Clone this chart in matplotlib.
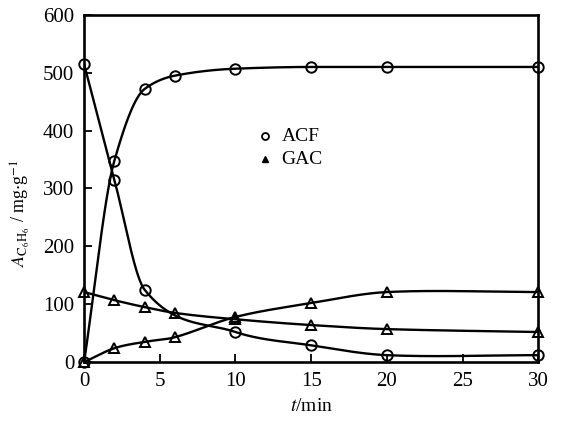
import numpy as np
import matplotlib
matplotlib.use("Agg")
import matplotlib.pyplot as plt

plt.rcParams['font.family'] = ['Liberation Serif', 'DejaVu Serif']
plt.rcParams['mathtext.fontset'] = 'stix'

# data
t = [0, 2, 4, 6, 10, 15, 20, 30]
acf_up = [0, 348, 472, 495, 507, 510, 510, 510]
t_acf_dn = [0, 2, 4, 10, 15, 20, 30]
acf_dn = [515, 315, 125, 52, 29, 12, 12]
gac_up = [0, 24, 35, 43, 78, 102, 121, 121]
gac_dn = [121, 107, 95, 85, 74, 64, 57, 52]


def hermite(x, y, m, xn):
    h = np.diff(x)
    idx = np.clip(np.searchsorted(x, xn) - 1, 0, len(h) - 1)
    s = (xn - x[idx]) / h[idx]
    h00 = 2 * s**3 - 3 * s**2 + 1
    h10 = s**3 - 2 * s**2 + s
    h01 = -2 * s**3 + 3 * s**2
    h11 = s**3 - s**2
    return h00 * y[idx] + h10 * h[idx] * m[idx] + h01 * y[idx + 1] + h11 * h[idx] * m[idx + 1]


def pchip(x, y, xn):
    # monotone cubic, only for drawing a smooth line through the points
    x = np.asarray(x, float)
    y = np.asarray(y, float)
    h = np.diff(x)
    d = np.diff(y) / h
    m = np.zeros_like(y)
    for k in range(1, len(x) - 1):
        if d[k - 1] * d[k] > 0:
            w1 = 2 * h[k] + h[k - 1]
            w2 = h[k] + 2 * h[k - 1]
            m[k] = (w1 + w2) / (w1 / d[k - 1] + w2 / d[k])
    m[0] = d[0]
    m[-1] = d[-1]
    return hermite(x, y, m, xn)


def catmull(x, y, xn):
    # centred-difference tangents
    x = np.asarray(x, float)
    y = np.asarray(y, float)
    m = np.zeros_like(y)
    m[1:-1] = (y[2:] - y[:-2]) / (x[2:] - x[:-2])
    m[0] = (y[1] - y[0]) / (x[1] - x[0])
    m[-1] = (y[-1] - y[-2]) / (x[-1] - x[-2])
    return hermite(x, y, m, xn)


fig = plt.figure(figsize=(5.72, 4.25), dpi=100)
ax = fig.add_axes([0.147, 0.148, 0.794, 0.817])

xs = np.linspace(0, 30, 800)
series = [(t, acf_up, 'o', 7.5, pchip), (t_acf_dn, acf_dn, 'o', 7.5, catmull),
          (t, gac_up, '^', 7, catmull), (t, gac_dn, '^', 7, pchip)]
for xx, yy, mk, ms, fn in series:
    ax.plot(xs, fn(xx, yy, xs), color='black', lw=1.7, zorder=2)
    ax.plot(xx, yy, mk, ms=ms, mfc='none', mec='black', mew=1.4,
            clip_on=False, zorder=3)

ax.set_xlim(0, 30)
ax.set_ylim(0, 600)
ax.set_xticks([0, 5, 10, 15, 20, 25, 30])
ax.set_yticks([0, 100, 200, 300, 400, 500, 600])
ax.tick_params(direction='in', length=6, width=1.3, labelsize=15, pad=7)
for s in ax.spines.values():
    s.set_linewidth(1.9)

ax.set_xlabel('$t$/min', fontsize=14, labelpad=5)
ax.set_ylabel(r'$A_{\mathrm{C_6H_6}}$ / mg$\cdot$g$^{-1}$', fontsize=13, labelpad=3)
ax.yaxis.set_label_coords(-0.115, 0.43)

ax.plot([0.399], [0.650], 'o', ms=5, mfc='none', mec='black', mew=1.3,
        transform=ax.transAxes)
ax.plot([0.399], [0.584], '^', ms=5, mfc='black', mec='black',
        transform=ax.transAxes)
ax.text(0.435, 0.650, 'ACF', fontsize=14, va='center', transform=ax.transAxes)
ax.text(0.435, 0.584, 'GAC', fontsize=14, va='center', transform=ax.transAxes)

fig.savefig('out.png', dpi=100)
